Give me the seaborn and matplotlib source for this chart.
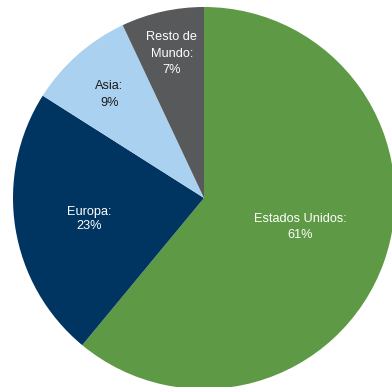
import numpy as np
import matplotlib
matplotlib.use("Agg")
import matplotlib.pyplot as plt
import seaborn as sns

# Regional distribution (percent)
regions = ["Estados Unidos", "Europa", "Asia", "Resto de\nMundo"]
shares = [61, 23, 9, 7]
colors = ["#5E9A45", "#003562", "#AAD2F0", "#58595B"]
text_colors = ["#FFFFFF", "#FFFFFF", "#1A1A1A", "#FFFFFF"]

# label placement: radial distance (fraction of radius), angular nudge (deg), line spacing
label_radius = [0.525, 0.61, 0.735, 0.775]
label_nudge = [3.0, 1.5, 1.0, 0.0]
label_spacing = [1.55, 1.25, 1.55, 1.45]

sns.set_theme(style="white")
plt.rcParams["font.family"] = ["Liberation Sans", "DejaVu Sans"]

fig = plt.figure(figsize=(3.92, 3.87), dpi=100)
# pie centre at (204, 198) px from top-left, radius 191 px
W, H = 392, 387
cx, cy, R = 204, 198, 191
ax = fig.add_axes([(cx - R) / W, (H - cy - R) / H, 2 * R / W, 2 * R / H])

wedges, _ = ax.pie(shares, colors=colors, startangle=90, counterclock=False,
                   radius=1.0, wedgeprops=dict(linewidth=0))
ax.set_xlim(-1, 1)
ax.set_ylim(-1, 1)
ax.set_aspect("auto")
ax.axis("off")

for w, name, val, r, dth, ls, tc in zip(wedges, regions, shares, label_radius,
                                        label_nudge, label_spacing, text_colors):
    ang = np.deg2rad((w.theta1 + w.theta2) / 2 + dth)
    ax.text(r * np.cos(ang), r * np.sin(ang), f"{name}:\n{val}%",
            ha="center", va="center", fontsize=9.2, color=tc,
            linespacing=ls, multialignment="center")

fig.savefig("out.png", dpi=100, facecolor="white")
